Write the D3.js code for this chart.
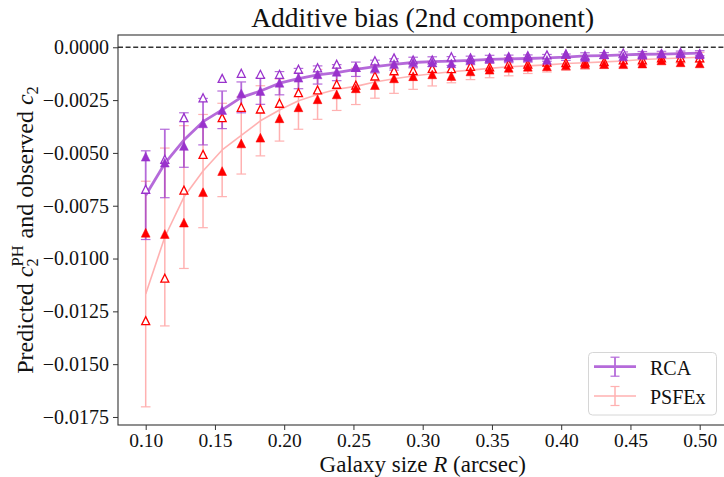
<!DOCTYPE html>
<html>
<head>
<meta charset="utf-8">
<script src="https://cdn.jsdelivr.net/npm/d3@7/dist/d3.min.js"></script>
<style>
  html, body { margin: 0; padding: 0; background: #fff; }
  svg { display: block; }
  text { font-family: "Liberation Serif", "DejaVu Serif", serif; fill: #111; }
</style>
</head>
<body>
<svg id="chart" width="724" height="477"></svg>
<script>
// Galaxy sizes (arcsec)
const R = [0.1000, 0.1138, 0.1276, 0.1414, 0.1552, 0.1690, 0.1828, 0.1966, 0.2103, 0.2241,
           0.2379, 0.2517, 0.2655, 0.2793, 0.2931, 0.3069, 0.3207, 0.3345, 0.3483, 0.3621,
           0.3759, 0.3897, 0.4034, 0.4172, 0.4310, 0.4448, 0.4586, 0.4724, 0.4862, 0.5000];

// RCA: mean c2 with spread, observed c2 and predicted c2^PH
const rcaMean = [-0.00700, -0.00550, -0.00439, -0.00352, -0.00296, -0.00237, -0.00207, -0.00170, -0.00148, -0.00131,
                 -0.00120, -0.00104, -0.00091, -0.00081, -0.00072, -0.00068, -0.00065, -0.00062, -0.00057, -0.00055,
                 -0.00053, -0.00050, -0.00047, -0.00041, -0.00039, -0.00036, -0.00033, -0.00032, -0.00030, -0.00028];
const rcaErr  = [0.00210, 0.00162, 0.00129, 0.00110, 0.00089, 0.00073, 0.00063, 0.00055, 0.00048, 0.00043,
                 0.00038, 0.00034, 0.00030, 0.00027, 0.00025, 0.00023, 0.00021, 0.00020, 0.00019, 0.00018,
                 0.00017, 0.00016, 0.00015, 0.00015, 0.00014, 0.00014, 0.00013, 0.00013, 0.00012, 0.00012];
const rcaObs  = [-0.00518, -0.00546, -0.00467, -0.00360, -0.00297, -0.00218, -0.00207, -0.00168, -0.00144, -0.00128,
                 -0.00116, -0.00094, -0.00097, -0.00079, -0.00071, -0.00071, -0.00076, -0.00058, -0.00052, -0.00047,
                 -0.00046, -0.00060, -0.00032, -0.00047, -0.00034, -0.00043, -0.00036, -0.00030, -0.00030, -0.00034];
const rcaPred = [-0.00672, -0.00530, -0.00333, -0.00239, -0.00147, -0.00123, -0.00128, -0.00128, -0.00104, -0.00097,
                 -0.00080, -0.00095, -0.00064, -0.00050, -0.00060, -0.00060, -0.00045, -0.00050, -0.00050, -0.00045,
                 -0.00040, -0.00036, -0.00032, -0.00040, -0.00033, -0.00027, -0.00033, -0.00030, -0.00025, -0.00030];

// PSFEx: mean c2 with spread, observed c2 and predicted c2^PH
const psfMean = [-0.01168, -0.00898, -0.00709, -0.00586, -0.00486, -0.00417, -0.00348, -0.00297, -0.00253, -0.00223,
                 -0.00199, -0.00185, -0.00164, -0.00149, -0.00136, -0.00125, -0.00116, -0.00108, -0.00100, -0.00092,
                 -0.00088, -0.00083, -0.00077, -0.00073, -0.00069, -0.00065, -0.00058, -0.00054, -0.00051, -0.00047];
const psfErr  = [0.00534, 0.00421, 0.00338, 0.00268, 0.00221, 0.00183, 0.00166, 0.00147, 0.00135, 0.00118,
                 0.00100, 0.00086, 0.00077, 0.00069, 0.00063, 0.00058, 0.00052, 0.00045, 0.00044, 0.00043,
                 0.00036, 0.00034, 0.00032, 0.00031, 0.00030, 0.00028, 0.00027, 0.00026, 0.00024, 0.00023];
const psfObs  = [-0.00878, -0.00884, -0.00830, -0.00686, -0.00586, -0.00455, -0.00428, -0.00336, -0.00284, -0.00246,
                 -0.00223, -0.00194, -0.00179, -0.00147, -0.00137, -0.00128, -0.00136, -0.00114, -0.00106, -0.00097,
                 -0.00092, -0.00090, -0.00086, -0.00079, -0.00080, -0.00080, -0.00077, -0.00062, -0.00071, -0.00076];
const psfPred = [-0.01294, -0.01093, -0.00676, -0.00507, -0.00333, -0.00284, -0.00292, -0.00265, -0.00215, -0.00202,
                 -0.00175, -0.00179, -0.00136, -0.00111, -0.00110, -0.00100, -0.00101, -0.00090, -0.00093, -0.00080,
                 -0.00080, -0.00070, -0.00073, -0.00070, -0.00068, -0.00060, -0.00060, -0.00050, -0.00050, -0.00050];

const xTicks = [0.10, 0.15, 0.20, 0.25, 0.30, 0.35, 0.40, 0.45, 0.50];
const yTicks = [0.0000, -0.0025, -0.0050, -0.0075, -0.0100, -0.0125, -0.0150, -0.0175];

const seriesNames = ["RCA", "PSFEx"];
const titleText = "Additive bias (2nd component)";

// ---- layout ----
const svg = d3.select("#chart");
const plot = { left: 118, right: 727.4, top: 35, bottom: 425 };

const x = d3.scaleLinear().domain([0.08, 0.52]).range([plot.left, plot.right]);
const y = d3.scaleLinear().domain([-0.01788, 0.000582]).range([plot.bottom, plot.top]);

const RCA_COLOR = "#9932CC";
const PSF_COLOR = "#FF0000";
const minus = s => s.replace("-", "\u2212");

// zero reference line
svg.append("line")
  .attr("x1", plot.left).attr("x2", plot.right)
  .attr("y1", y(0)).attr("y2", y(0))
  .attr("stroke", "#333").attr("stroke-width", 1.4)
  .attr("stroke-dasharray", "5,2.6");

// error bars + mean line for one series
function errorSeries(mean, err, color, opts) {
  const g = svg.append("g").attr("opacity", opts.opacity);
  const pts = R.map((r, i) => ({ r, m: mean[i], e: err[i] }));
  g.selectAll("line.bar").data(pts).join("line")
    .attr("x1", d => x(d.r)).attr("x2", d => x(d.r))
    .attr("y1", d => y(d.m - d.e)).attr("y2", d => y(d.m + d.e))
    .attr("stroke", color).attr("stroke-width", opts.barWidth);
  [1, -1].forEach(s => {
    g.selectAll(null).data(pts).join("line")
      .attr("x1", d => x(d.r) - 4.8).attr("x2", d => x(d.r) + 4.8)
      .attr("y1", d => y(d.m + s * d.e)).attr("y2", d => y(d.m + s * d.e))
      .attr("stroke", color).attr("stroke-width", 1.2);
  });
  g.append("path").datum(pts)
    .attr("fill", "none").attr("stroke", color)
    .attr("stroke-width", opts.lineWidth)
    .attr("stroke-linejoin", "round")
    .attr("d", d3.line().x(d => x(d.r)).y(d => y(d.m)));
}

errorSeries(psfMean, psfErr, PSF_COLOR, { opacity: 0.3, barWidth: 1.5, lineWidth: 1.6 });
errorSeries(rcaMean, rcaErr, RCA_COLOR, { opacity: 0.72, barWidth: 1.8, lineWidth: 2.8 });

// triangle markers
const tri = h => `M0,${-h}L${h},${h}L${-h},${h}Z`;
function markers(vals, color, filled) {
  svg.append("g").selectAll("path").data(R.map((r, i) => [r, vals[i]])).join("path")
    .attr("transform", d => `translate(${x(d[0])},${y(d[1])})`)
    .attr("d", filled ? tri(4.4) : tri(4.0))
    .attr("fill", filled ? color : "#fff")
    .attr("stroke", color)
    .attr("stroke-width", filled ? 0.5 : 1.3)
    .attr("stroke-linejoin", "miter");
}
markers(rcaPred, RCA_COLOR, false);
markers(psfPred, PSF_COLOR, false);
markers(psfObs, PSF_COLOR, true);
markers(rcaObs, RCA_COLOR, true);

// frame
svg.append("rect")
  .attr("x", plot.left).attr("y", plot.top)
  .attr("width", plot.right - plot.left).attr("height", plot.bottom - plot.top)
  .attr("fill", "none").attr("stroke", "#333").attr("stroke-width", 1.1);

// x axis
const xAxis = svg.append("g").attr("transform", `translate(0,${plot.bottom})`)
  .call(d3.axisBottom(x).tickValues(xTicks).tickFormat(d3.format(".2f")).tickSize(5).tickPadding(3));
xAxis.select(".domain").remove();
xAxis.selectAll("line").attr("stroke", "#333");
xAxis.selectAll("text").attr("font-size", 19.5).attr("font-family", "Liberation Serif").attr("fill", "#111");

// y axis
const yAxis = svg.append("g").attr("transform", `translate(${plot.left},0)`)
  .call(d3.axisLeft(y).tickValues(yTicks).tickFormat(d => minus(d3.format(".4f")(d))).tickSize(5).tickPadding(4));
yAxis.select(".domain").remove();
yAxis.selectAll("line").attr("stroke", "#333");
yAxis.selectAll("text").attr("font-size", 20).attr("font-family", "Liberation Serif").attr("fill", "#111");

// title
svg.append("text")
  .attr("x", (plot.left + plot.right) / 2).attr("y", 27)
  .attr("text-anchor", "middle").attr("font-size", 27.5)
  .text(titleText);

// x label
const xl = svg.append("text")
  .attr("x", (plot.left + plot.right) / 2).attr("y", 472)
  .attr("text-anchor", "middle").attr("font-size", 23);
xl.append("tspan").text("Galaxy size ");
xl.append("tspan").attr("font-style", "italic").text("R");
xl.append("tspan").text(" (arcsec)");

// y label, composed piece by piece so the sub/superscripts stack
const yl = svg.append("g");
const big = 24, small = 16.5;
let cx = 0;
function piece(str, size, dy, italic, advance) {
  const t = yl.append("text").attr("x", cx).attr("y", dy)
    .attr("font-size", size).attr("font-style", italic ? "italic" : "normal")
    .style("white-space", "pre").text(str);
  const w = t.node().getComputedTextLength();
  if (advance) cx += w;
  return w;
}
piece("Predicted ", big, 0, false, true);
piece("c", big, 0, true, true);
const wSub1 = piece("2", small, 5, false, false);
const wSup = piece("PH", small, -10, false, false);
cx += Math.max(wSub1, wSup) + 1;
piece(" and observed ", big, 0, false, true);
piece("c", big, 0, true, true);
piece("2", small, 5, false, true);
const totalW = cx;
yl.attr("transform", `translate(33,${(plot.top + plot.bottom) / 2}) rotate(-90) translate(${-totalW / 2},0)`);

// legend
const lg = svg.append("g");
lg.append("rect")
  .attr("x", 588.5).attr("y", 352.5).attr("width", 128).attr("height", 62.5)
  .attr("rx", 4).attr("fill", "#fff").attr("fill-opacity", 0.8)
  .attr("stroke", "#d6d6d6").attr("stroke-width", 1);
const legendRows = [
  { name: seriesNames[0], color: RCA_COLOR, opacity: 0.72, lw: 2.8, bw: 1.8, cy: 366.7, ty: 375 },
  { name: seriesNames[1], color: PSF_COLOR, opacity: 0.3, lw: 1.6, bw: 1.5, cy: 396, ty: 403.5 }
];
legendRows.forEach(row => {
  const g = lg.append("g").attr("opacity", row.opacity);
  g.append("line").attr("x1", 594).attr("x2", 636).attr("y1", row.cy).attr("y2", row.cy)
    .attr("stroke", row.color).attr("stroke-width", row.lw);
  g.append("line").attr("x1", 615).attr("x2", 615).attr("y1", row.cy - 9.5).attr("y2", row.cy + 9.5)
    .attr("stroke", row.color).attr("stroke-width", row.bw);
  [-9.5, 9.5].forEach(o => g.append("line")
    .attr("x1", 610.5).attr("x2", 619.5).attr("y1", row.cy + o).attr("y2", row.cy + o)
    .attr("stroke", row.color).attr("stroke-width", 1.2));
  lg.append("text").attr("x", 650).attr("y", row.ty).attr("font-size", 20).text(row.name);
});
</script>
</body>
</html>
